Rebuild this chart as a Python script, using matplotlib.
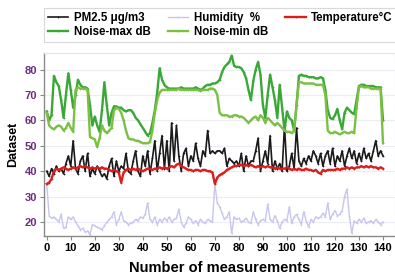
import matplotlib
matplotlib.use('Agg')
import matplotlib.pyplot as plt
import numpy as np

plt.rcParams['font.family'] = ['Liberation Sans', 'DejaVu Sans']

# measurement index 0..140
pm25 = [40, 38, 41, 39, 42, 40, 41, 39, 43, 46,
        42, 52, 41, 39, 44, 46, 40, 47, 38, 41,
        39, 42, 40, 38, 39, 37, 42, 45, 38, 44,
        40, 42, 41, 47, 40, 39, 44, 48, 40, 38,
        46, 42, 48, 39, 45, 52, 40, 47, 54, 41,
        52, 40, 59, 44, 58, 46, 40, 47, 49, 42,
        46, 44, 51, 45, 42, 48, 46, 56, 47, 48,
        47, 48, 48, 47, 49, 42, 45, 44, 43, 44,
        42, 47, 40, 46, 42, 44, 44, 48, 53, 40,
        44, 48, 43, 54, 40, 44, 41, 43, 40, 58,
        40, 42, 47, 41, 57, 44, 42, 45, 43, 46,
        44, 48, 46, 43, 47, 42, 46, 48, 43, 49,
        42, 46, 44, 48, 42, 46, 49, 45, 48, 43,
        47, 44, 49, 45, 47, 44, 48, 52, 46, 48,
        46]

humidity = [35, 22.5, 21.5, 22, 21, 20, 23, 17.5, 18, 22,
            21, 22, 20, 18.5, 17, 17.5, 16, 16.5, 15, 19,
            18.5, 18, 17.5, 17, 18.5, 20, 21, 22, 24, 19,
            21, 24, 20.5, 20, 19, 19.5, 20, 21, 20.5, 22,
            21.5, 23, 27.5, 21, 20, 22, 19, 21, 20, 21.5,
            20.5, 22, 20, 21, 21.5, 25, 20, 18, 19.5, 22,
            21, 19.5, 20.5, 19, 21, 20, 19.5, 21, 20.5, 20,
            35, 27.5, 26, 23.5, 21, 22, 24, 15.5, 22, 21,
            21.5, 20, 20.5, 21.5, 20, 19.5, 24, 21, 19, 20.5,
            21, 20.5, 27, 21, 20, 22.5, 20.5, 17.5, 20, 21,
            20.5, 26, 19.5, 22, 23, 21, 19, 24, 20.5, 18,
            21, 20, 22, 21.5, 22, 23.5, 22, 27.5, 21, 23,
            24.5, 22.5, 23, 24.5, 30, 33, 22.5, 15.5, 20.5, 19.5,
            21, 20, 21.5, 19.5, 20, 20.5, 19.5, 21, 20, 19,
            20]

temperature = [35, 35.5, 37, 40, 41, 40.5, 41, 41.5, 41, 40.5,
               41, 41.5, 41, 41.5, 42, 41.5, 42, 41.5, 41, 41.5,
               41, 41.5, 41, 41.5, 41, 41, 40.5, 40, 40.5, 40,
               39.5, 35.5, 39.5, 40.5, 41, 40.5, 41, 40.5, 41, 40.5,
               40, 40.5, 41, 41, 40.5, 41, 41, 41.5, 41, 41.5,
               41, 41.5, 42, 41.5, 42.5, 43, 42, 41.5, 41, 40.5,
               40.5, 40, 40.5, 40.5, 40, 40.5, 40.5, 40, 40, 39.5,
               35, 37.5, 38.5, 39, 39.5, 40.5, 41, 41.5, 42, 42,
               42.5, 42.5, 42, 42.5, 42, 42.5, 42, 41.5, 42, 41.5,
               42, 41.5, 42, 41.5, 41.5, 41, 41.5, 41, 41, 41,
               41.5, 41, 40.5, 41, 40.5, 41, 40.5, 40.5, 41, 40.5,
               40.5, 40, 40.5, 39.5, 39, 40.5, 40, 40.5, 40.5, 40.5,
               40.5, 41, 40.5, 41, 41, 41.5, 41, 41.5, 41, 41.5,
               41.5, 42, 41.5, 42, 41.5, 42, 41.5, 41.5, 41, 41.5,
               41]

noise_max = [63.5, 60, 62, 77.5, 75, 73.5, 68, 61, 70, 78.5,
             72, 65, 70, 76, 74, 73, 73, 72.5, 66, 58,
             61.5, 58, 55.5, 64, 75, 66, 58, 63, 65.5, 65.5,
             65, 65, 64, 63.5, 64, 64, 63, 61, 60, 58.5,
             57, 55.5, 54, 55, 59, 64, 71, 80.5, 76, 74,
             73, 72.5, 72.5, 72.5, 72.5, 72.5, 73, 72.5, 72.5, 72.5,
             72.5, 72.5, 73, 72.5, 72, 72.5, 73.5, 74, 74, 74.5,
             74.5, 75, 76, 79, 81, 82, 83, 85.5, 81.5, 81,
             81, 80.5, 79, 76.5, 72, 68, 75.5, 80, 83, 78,
             66, 61, 70, 78, 73, 68, 61, 74, 65, 56,
             63.5, 61, 60, 56, 66, 77.5, 78, 77.5, 77.5, 77,
             77, 77, 76.5, 76.5, 77, 76.5, 72, 64, 61, 60.5,
             62, 64.5, 60, 56.5, 63, 65, 64, 63, 62.5, 68,
             73.5, 74, 74, 73.5, 73.5, 73.5, 73.5, 73, 73, 73,
             60]

noise_min = [63, 58, 57, 56.5, 57.5, 58, 57.5, 56, 57, 59,
             57, 55.5, 72, 73, 72.5, 72.5, 72.5, 72, 53.5, 53,
             52.5, 49.5, 53, 58, 56, 55, 56, 57, 64, 65,
             64.5, 63, 60, 56, 53, 52.5, 52.5, 52, 52, 51.5,
             51, 51, 51, 51.5, 56, 63, 68, 71, 72, 72,
             72, 72, 72, 72, 72, 72.5, 72, 72, 72, 72,
             72, 72, 72, 72, 71.5, 72, 72, 72, 72.5, 72.5,
             72, 70, 63, 62, 62, 62, 61.5, 61.5, 62, 62,
             61.5, 61.5, 61, 60, 59, 60, 61, 61.5, 60, 62,
             61, 59, 61, 60, 59, 58, 59, 58, 57, 56,
             55.5, 55.5, 55, 56, 66, 75, 75, 74.5, 74.5, 74.5,
             74.5, 74.5, 74, 74, 74, 74, 70, 56, 55, 55,
             55.5, 55, 54.5, 55, 55.5, 55, 55, 55.5, 55, 65,
             73, 73.5, 73, 73, 73, 72.5, 72.5, 72.5, 72.5, 72.5,
             51]

x = np.arange(len(pm25))

fig = plt.figure(figsize=(3.95, 2.76), dpi=100)
ax = fig.add_axes([0.111, 0.145, 0.889, 0.663])

l_pm, = ax.plot(x, pm25, color='#1a1a1a', lw=1.2, marker='+', ms=2, mew=0.5)
l_hum, = ax.plot(x, humidity, color='#c9c6ee', lw=1.0, marker='+', ms=2, mew=0.5)
l_tmp, = ax.plot(x, temperature, color='#d91e1e', lw=1.7, marker='+', ms=2, mew=0.5)
l_max, = ax.plot(x, noise_max, color='#3aa836', lw=1.7, marker='+', ms=2, mew=0.5)
l_min, = ax.plot(x, noise_min, color='#7cc043', lw=1.7, marker='+', ms=2, mew=0.5)

ax.set_xlim(-1.2, 145)
ax.set_ylim(14.5, 86.5)
ax.set_xticks(range(0, 141, 10))
ax.set_yticks(range(20, 81, 10))
ax.grid(axis='y', color='#ececf4', lw=0.8)
ax.set_axisbelow(True)

for lab in ax.get_xticklabels():
    lab.set_fontweight('bold')
for lab in ax.get_yticklabels():
    lab.set_fontweight('bold')
    lab.set_color('#6b2d7b')
ax.tick_params(axis='both', labelsize=8, length=3, width=0.8, color='#888888', pad=2)

for side in ['top', 'right']:
    ax.spines[side].set_color('#e4e4e4')
for side in ['left', 'bottom']:
    ax.spines[side].set_color('#8a8a8a')
    ax.spines[side].set_linewidth(1.0)

ax.set_ylabel('Dataset', fontsize=9, fontweight='bold', labelpad=4)
ax.set_xlabel('Number of measurements', fontsize=10.5, fontweight='bold', labelpad=6)

handles = [l_pm, l_max, l_hum, l_min, l_tmp]
labels = ['PM2.5 \u03bcg/m3', 'Noise-max dB', 'Humidity  %', 'Noise-min dB', 'Temperature\u00b0C']
leg = fig.legend(handles, labels, loc='upper left', bbox_to_anchor=(0.112, 0.97),
                 ncol=3, prop={'weight': 'bold', 'size': 8.3},
                 frameon=True, fancybox=False, edgecolor='#d0d0d0',
                 handlelength=1.8, handletextpad=0.45, columnspacing=1.5,
                 labelspacing=0.2, borderpad=0.3, borderaxespad=0)
leg.get_frame().set_linewidth(0.8)

fig.savefig('out.png', dpi=100)
